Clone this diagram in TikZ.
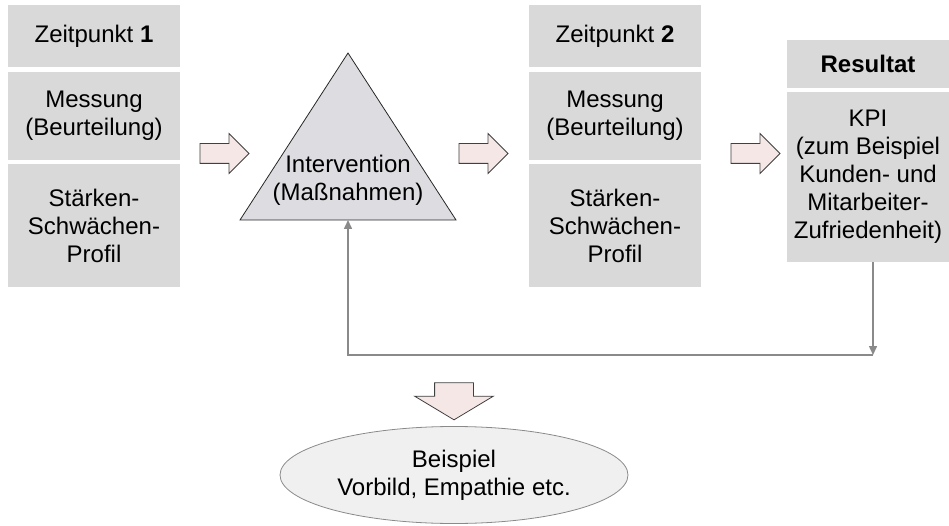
\documentclass[tikz,border=0pt]{standalone}
\usepackage{fontspec}
\setmainfont{Liberation Sans}
\usepackage{tikz}
\usetikzlibrary{shapes.geometric,shapes.arrows,arrows.meta}
\definecolor{boxgray}{HTML}{D9D9D9}
\definecolor{trigray}{HTML}{DDDDE1}
\definecolor{arrowfill}{HTML}{F6E7E7}
\definecolor{arrowline}{HTML}{404040}
\definecolor{linegray}{HTML}{8A8A8A}
\definecolor{ovalfill}{HTML}{F0F0F0}

\begin{document}
\begin{tikzpicture}[x=1pt,y=-1pt,
	font=\fontsize{24}{28}\selectfont,
	cell/.style={fill=boxgray, align=center, inner sep=0pt},
	blockarrow/.style={single arrow, draw=arrowline, fill=arrowfill, line width=0.8pt,
		inner xsep=0pt, inner ysep=9.5pt, minimum height=49pt, single arrow head extend=10pt},
	feedback/.style={draw=linegray, line width=1.5pt}]
	\useasboundingbox (0,0) rectangle (949,526);
	% Zeitpunkt 1 und 2
	\foreach \n/\x in {1/94, 2/615}
	{
		\node[cell, minimum width=172pt, minimum height=62pt] (zeit\n) at (\x,36) {Zeitpunkt \textbf{\n}};
		\node[cell, minimum width=172pt, minimum height=88pt] (mess\n) at (\x,116) {Messung\\(Beurteilung)};
		\node[cell, minimum width=172pt, minimum height=123pt] (profil\n) at (\x,225.5) {St\"arken-\\Schw\"achen-\\Profil};
	}
	% Resultat
	\node[cell, minimum width=162pt, minimum height=48pt] (resultat) at (868,64) {\textbf{Resultat}};
	\node[cell, minimum width=162pt, minimum height=170pt] (kpi) at (868,177) {KPI\\(zum Beispiel\\Kunden- und\\Mitarbeiter-\\Zufriedenheit)};
	% Intervention
	\coordinate (spitze) at (348,53);
	\coordinate (links) at (240,220);
	\coordinate (rechts) at (456,220);
	\coordinate (tribasis) at (348,220);
	\draw[fill=trigray, draw=black!85, line width=0.8pt] (spitze) -- (links) -- (rechts) -- cycle;
	\node[align=center, inner sep=0pt] (interv) at (348,180) {Intervention\\(Ma\ss nahmen)};
	% Pfeile
	\foreach \x [count=\i] in {219.5, 478.5, 750.5}
	{
		\node[blockarrow] (pfeil\i) at (\x,153.5) {};
	}
	\node[blockarrow, rotate=-90, inner ysep=19pt, minimum height=37pt,
		single arrow head extend=20pt, single arrow tip angle=118] (pfeilab) at (454,395.5) {};
	% Rueckkopplung
	\coordinate (ecke1) at (873,355);
	\coordinate (ecke2) at (348,355);
	\draw[feedback, -{Triangle[length=9pt,width=8pt]}] (ecke1 |- kpi.south) -- (ecke1);
	\draw[feedback, -{Triangle[length=9pt,width=8pt]}] (ecke1) -- (ecke2) -- (tribasis);
	% Beispiel
	\node[ellipse, draw=linegray, fill=ovalfill, line width=0.8pt, minimum width=348pt, minimum height=97pt,
		align=center, inner sep=0pt] (beispiel) at (454,475) {Beispiel\\Vorbild, Empathie etc.};
\end{tikzpicture}
\end{document}
